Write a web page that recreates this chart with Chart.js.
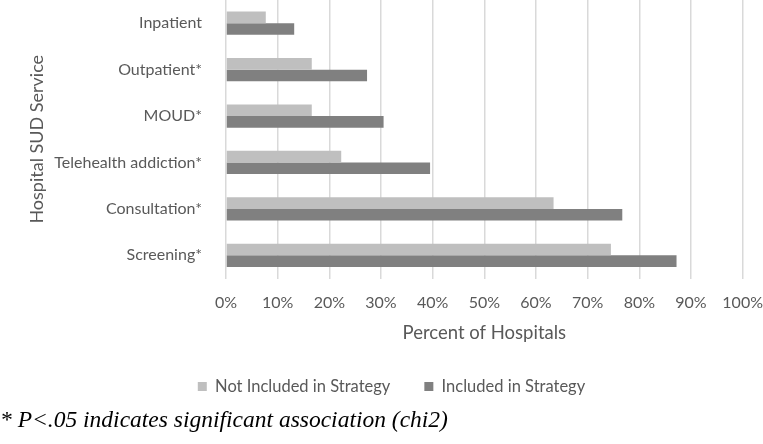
<!DOCTYPE html>
<html>
<head>
<meta charset="utf-8">
<script src="https://cdn.jsdelivr.net/npm/chart.js@4"></script>
<style>
  html, body { margin: 0; padding: 0; background: #fff; }
  #wrap { width: 763px; height: 444px; }
</style>
</head>
<body>
<div id="wrap"><canvas id="DiagramLayanan" width="763" height="444"></canvas></div>
<script>
const services = [
  "Inpatient",
  "Outpatient*",
  "MOUD*",
  "Telehealth addiction*",
  "Consultation*",
  "Screening*",
];
const notIncluded = [7.7, 16.6, 16.6, 22.3, 63.4, 74.5]; // Not Included in Strategy
const included = [13.2, 27.3, 30.5, 39.5, 76.7, 87.2]; // Included in Strategy
const percentTicks = [0, 10, 20, 30, 40, 50, 60, 70, 80, 90, 100];

const textColor = "#595959";
const font = "Lato";

// geser legenda sedikit ke kanan, seperti di gambar asli
const legendShift = {
  id: "legendShift",
  afterLayout(chart) {
    chart.legend.left += 10;
    chart.legend.right += 10;
  },
};

const ctx = document.getElementById("DiagramLayanan");

new Chart(ctx, {
  type: "bar",
  data: {
    labels: services,
    datasets: [
      {
        label: "Not Included in Strategy",
        data: notIncluded,
        backgroundColor: "#bfbfbf",
        categoryPercentage: 0.5,
        barPercentage: 1.0,
      },
      {
        label: "Included in Strategy",
        data: included,
        backgroundColor: "#808080",
        categoryPercentage: 0.5,
        barPercentage: 1.0,
      },
    ],
  },
  plugins: [legendShift],
  options: {
    indexAxis: "y",
    responsive: false,
    animation: false,
    layout: { padding: { left: 0, right: 0, top: 0, bottom: 0 } },
    scales: {
      x: {
        min: 0,
        max: 100,
        afterBuildTicks: (axis) => {
          axis.ticks = percentTicks.map((v) => ({ value: v }));
        },
        grid: {
          color: "#d9d9d9",
          lineWidth: 1.5,
          drawTicks: true,
          tickLength: 14.4,
          tickColor: "rgba(0,0,0,0)",
        },
        border: { display: false },
        ticks: {
          padding: 0,
          color: textColor,
          font: { family: font, size: 16 },
          callback: (v) => v + "%",
        },
        title: {
          display: true,
          text: "Percent of Hospitals",
          color: textColor,
          font: { family: font, size: 18.5 },
          padding: { top: 10, bottom: 0 },
        },
      },
      y: {
        afterFit: (scale) => {
          scale.width = 226;
          scale.paddingTop = 0;
          scale.paddingBottom = 0;
        },
        grid: { display: false, drawTicks: false },
        border: { display: false },
        ticks: {
          padding: 24,
          color: textColor,
          font: { family: font, size: 16 },
        },
        title: {
          display: true,
          text: "Hospital SUD Service",
          color: textColor,
          font: { family: font, size: 18 },
          padding: { top: 26, bottom: 5 },
        },
      },
    },
    plugins: {
      legend: {
        position: "bottom",
        labels: {
          boxWidth: 9,
          boxHeight: 9,
          padding: 34,
          color: textColor,
          font: { family: font, size: 16.5 },
        },
      },
      title: {
        display: true,
        position: "bottom",
        align: "start",
        text: "* P<.05 indicates significant association (chi2)",
        color: "#000",
        font: { family: "Liberation Serif", size: 23.5, style: "italic", weight: "normal" },
        padding: { top: 2, bottom: 9 },
      },
      tooltip: { enabled: false },
    },
  },
});
</script>
</body>
</html>
